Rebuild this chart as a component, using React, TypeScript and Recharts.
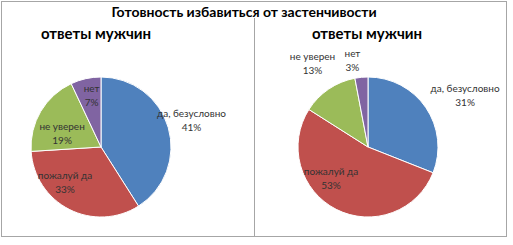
import { Pie, PieChart } from "recharts";

const categories = ["да, безусловно", "пожалуй да", "не уверен", "нет"];
const leftValues = [41, 33, 19, 7];
const rightValues = [31, 53, 13, 3];
const colors = ["#4F81BD", "#C0504D", "#9BBB59", "#8064A2"];

const mainTitle = "Готовность избавиться от застенчивости";
const panelTitle = "ответы мужчин";

// label placement per slice: radius factor, angle shift (deg)
const leftPlace = [
  [1.34, -1],
  [0.74, -17],
  [0.58, 14],
  [0.73, -2],
];
const rightPlace = [
  [1.56, -7],
  [0.71, -21],
  [1.41, 0],
  [1.23, 5],
];

const RAD = Math.PI / 180;

function makeLabel(place: number[][]) {
  return (props: any) => {
    const { cx, cy, midAngle, outerRadius, index, percent, name } = props;
    const [f, shift] = place[index];
    const a = (midAngle + shift) * RAD;
    const r = outerRadius * f;
    const x = cx + r * Math.cos(a);
    const y = cy - r * Math.sin(a);
    return (
      <text x={x} y={y} textAnchor="middle" fill="#333" fontSize={10} fontFamily="Lato, sans-serif">
        <tspan x={x} dy={-5}>{name}</tspan>
        <tspan x={x} dy={14}>{Math.round(percent * 100)}%</tspan>
      </text>
    );
  };
}

const leftData = categories.map((name, i) => ({ name, value: leftValues[i], fill: colors[i] }));
const rightData = categories.map((name, i) => ({ name, value: rightValues[i], fill: colors[i] }));

export default function App() {
  const titleStyle: React.CSSProperties = {
    position: "absolute",
    fontFamily: "Lato, sans-serif",
    fontWeight: 700,
    color: "#000",
    whiteSpace: "nowrap",
    transform: "translateX(-50%)",
    lineHeight: 1,
  };
  return (
    <div style={{ position: "absolute", left: 0, top: 0, width: 513, height: 245, background: "#fff" }}>
      <div style={{ position: "absolute", left: 1, top: 1, width: 504, height: 234, border: "1px solid #a6a6a6" }} />
      <div style={{ position: "absolute", left: 254, top: 18, width: 1, height: 218, background: "#a6a6a6" }} />
      <PieChart width={513} height={245} style={{ position: "absolute", left: 0, top: 0 }}>
        <Pie
          data={leftData}
          dataKey="value"
          nameKey="name"
          cx={96}
          cy={142}
          outerRadius={70}
          startAngle={90}
          endAngle={-270}
          stroke="#fff"
          strokeWidth={1}
          label={makeLabel(leftPlace)}
          labelLine={false}
          isAnimationActive={false}
        />
        <Pie
          data={rightData}
          dataKey="value"
          nameKey="name"
          cx={363}
          cy={142}
          outerRadius={70}
          startAngle={90}
          endAngle={-270}
          stroke="#fff"
          strokeWidth={1}
          label={makeLabel(rightPlace)}
          labelLine={false}
          isAnimationActive={false}
        />
      </PieChart>
      <div style={{ ...titleStyle, left: 244, top: 5, fontSize: 14 }}>{mainTitle}</div>
      <div style={{ ...titleStyle, left: 96, top: 26, fontSize: 15 }}>{panelTitle}</div>
      <div style={{ ...titleStyle, left: 367, top: 26, fontSize: 15 }}>{panelTitle}</div>
    </div>
  );
}
